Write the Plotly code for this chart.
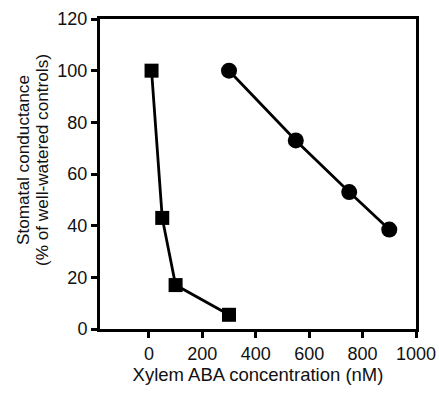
import plotly.graph_objects as go

sq_x = [10, 50, 100, 300]
sq_y = [100, 43, 17, 5.5]
ci_x = [300, 550, 750, 900]
ci_y = [100, 73, 53, 38.5]
x_ticks = [0, 200, 400, 600, 800, 1000]
y_ticks = [0, 20, 40, 60, 80, 100, 120]
y_title_lines = ["Stomatal conductance", "(% of well-watered controls)"]

fig = go.Figure()
fig.add_trace(go.Scatter(x=sq_x, y=sq_y, mode="lines+markers",
                         line=dict(color="black", width=2.8),
                         marker=dict(symbol="square", size=14, color="black")))
fig.add_trace(go.Scatter(x=ci_x, y=ci_y, mode="lines+markers",
                         line=dict(color="black", width=2.8),
                         marker=dict(symbol="circle", size=16, color="black")))

font = dict(family="Liberation Sans, Arial, sans-serif", size=18, color="#111")
fig.update_layout(
    width=439, height=396,
    margin=dict(l=100, r=23, t=19, b=67, autoexpand=False),
    plot_bgcolor="white", paper_bgcolor="white",
    showlegend=False, font=font,
)
fig.update_xaxes(range=[-183, 1000], tickvals=x_ticks, ticks="outside", ticklen=6,
                 tickwidth=3, tickcolor="black", showline=True, linewidth=3,
                 linecolor="black", mirror=True, showgrid=False, zeroline=False,
                 automargin=False,
                 title=dict(text="Xylem ABA concentration (nM)", font=dict(size=18.5), standoff=4),
                 tickfont=dict(size=18))
fig.update_yaxes(range=[0, 120], tickvals=y_ticks, ticks="outside", ticklen=6,
                 tickwidth=3, tickcolor="black", showline=True, linewidth=3,
                 linecolor="black", mirror=True, showgrid=False, zeroline=False,
                 automargin=False, tickfont=dict(size=18))
for line, px in zip(y_title_lines, [23, 42]):
    fig.add_annotation(text=line, textangle=-90, xref="paper", yref="paper",
                       x=(px - 100) / 316, y=0.545, xanchor="center", yanchor="middle",
                       showarrow=False, font=dict(size=17.2))
fig.write_html("out.html")
